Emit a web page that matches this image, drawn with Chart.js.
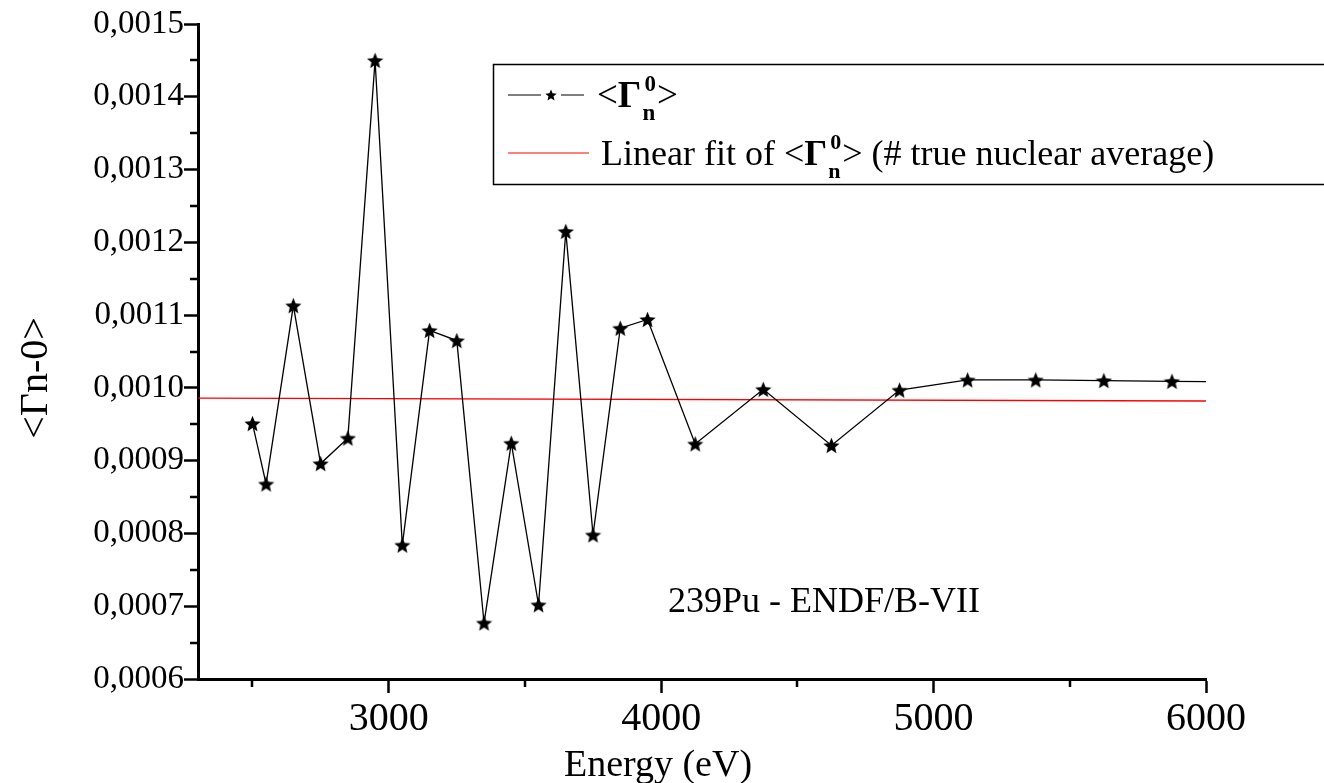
<!DOCTYPE html>
<html>
<head>
<meta charset="utf-8">
<script src="https://cdn.jsdelivr.net/npm/chart.js@4.4.1/dist/chart.umd.min.js"></script>
<style>
  html, body { margin: 0; padding: 0; background: #fff; }
  canvas { display: block; }
</style>
</head>
<body>
<canvas id="chart" width="1324" height="783"></canvas>
<script>
// Average reduced neutron width <Γn0> of 239Pu (ENDF/B-VII) versus energy
const energy = [2500, 2550, 2650, 2750, 2850, 2950, 3050, 3150, 3250, 3350, 3450, 3550,
                3650, 3750, 3850, 3950, 4125, 4375, 4625, 4875, 5125, 5375, 5625, 5875, 6125];
const gammaAvg = [0.000951, 0.000868, 0.001113, 0.000896, 0.000931, 0.001450, 0.000784,
                  0.001079, 0.001065, 0.000677, 0.000924, 0.000702, 0.001215, 0.000798,
                  0.001082, 0.001094, 0.000923, 0.000998, 0.000921, 0.000997, 0.001011,
                  0.001011, 0.001010, 0.001009, 0.001008];

// Linear fit (true nuclear average), end points
const fitEnergy = [2300, 6000];
const fitValue = [0.000986, 0.000982];

// Axis ticks
const xMajorTicks = [3000, 4000, 5000, 6000];
const xMinorTicks = [2500, 3500, 4500, 5500];
const yMajorTicks = [0.0006, 0.0007, 0.0008, 0.0009, 0.0010, 0.0011, 0.0012, 0.0013, 0.0014, 0.0015];
const yMinorTicks = [0.00065, 0.00075, 0.00085, 0.00095, 0.00105, 0.00115, 0.00125, 0.00135, 0.00145];

const xTitle = 'Energy (eV)';
const yTitle = '<Γn-0>';
const noteText = '239Pu - ENDF/B-VII';
const noteAt = { x: 4025, y: 0.000692 };
const legendRow2Prefix = 'Linear fit of ';
const legendRow2Suffix = ' (# true nuclear average)';

const SERIF = '"Liberation Serif", "Times New Roman", serif';

// Filled five-pointed star used as point marker
function starImage(size) {
  const c = document.createElement('canvas');
  c.width = size; c.height = size;
  const g = c.getContext('2d');
  const R = size / 2, r = R * 0.45, cy = R + R * 0.09;
  g.beginPath();
  for (let i = 0; i < 10; i++) {
    const a = -Math.PI / 2 + i * Math.PI / 5;
    const rad = i % 2 ? r : R;
    g.lineTo(R + rad * Math.cos(a), cy + rad * Math.sin(a));
  }
  g.closePath();
  g.fillStyle = '#000';
  g.fill();
  return c;
}
const starMarker = starImage(17);
const legendStar = starImage(12);

// Draws "<Γ n 0>" with stacked subscript / superscript; returns the end x
function drawGammaSymbol(ctx, x, baseline, size) {
  ctx.font = `${size}px ${SERIF}`;
  ctx.fillText('<', x, baseline);
  x += ctx.measureText('<').width;
  ctx.font = `bold ${size}px ${SERIF}`;
  ctx.fillText('Γ', x, baseline);
  x += ctx.measureText('Γ').width + 1;
  const small = Math.round(size * 0.62);
  ctx.font = `bold ${small}px ${SERIF}`;
  ctx.fillText('n', x, baseline + size * 0.36);
  ctx.fillText('0', x + 2, baseline - size * 0.44);
  x += Math.max(ctx.measureText('n').width, ctx.measureText('0').width + 2) + 1;
  ctx.font = `${size}px ${SERIF}`;
  ctx.fillText('>', x, baseline);
  return x + ctx.measureText('>').width;
}

const decor = {
  id: 'decor',
  afterDraw(chart) {
    const { ctx, chartArea: area, scales: { x, y } } = chart;
    ctx.save();

    // minor tick marks
    ctx.strokeStyle = '#000';
    ctx.lineWidth = 2.5;
    ctx.beginPath();
    xMinorTicks.forEach(v => {
      const px = Math.round(x.getPixelForValue(v));
      ctx.moveTo(px, area.bottom); ctx.lineTo(px, area.bottom + 8);
    });
    yMinorTicks.forEach(v => {
      const py = Math.round(y.getPixelForValue(v));
      ctx.moveTo(area.left, py); ctx.lineTo(area.left - 8, py);
    });
    ctx.stroke();

    ctx.fillStyle = '#000';
    ctx.textBaseline = 'alphabetic';

    // axis titles
    ctx.font = `38px ${SERIF}`;
    ctx.textAlign = 'center';
    ctx.fillText(xTitle, 658, 776);
    ctx.save();
    ctx.translate(47, 378);
    ctx.rotate(-Math.PI / 2);
    ctx.font = `40px ${SERIF}`;
    ctx.fillText(yTitle, 0, 0);
    ctx.restore();

    // annotation
    ctx.textAlign = 'left';
    ctx.font = `36px ${SERIF}`;
    ctx.fillText(noteText, x.getPixelForValue(noteAt.x), y.getPixelForValue(noteAt.y));

    // legend box
    ctx.lineWidth = 1.5;
    ctx.strokeStyle = '#000';
    ctx.strokeRect(493.5, 64.5, 900, 120);

    // row 1: data series
    const r1 = 95;
    ctx.lineWidth = 1.2;
    ctx.beginPath();
    ctx.moveTo(508, r1); ctx.lineTo(541, r1);
    ctx.moveTo(561, r1); ctx.lineTo(584, r1);
    ctx.stroke();
    ctx.drawImage(legendStar, 551 - legendStar.width / 2, r1 - legendStar.height / 2);
    drawGammaSymbol(ctx, 597, r1 + 12, 37);

    // row 2: linear fit
    const r2 = 153;
    ctx.strokeStyle = '#ff0000';
    ctx.beginPath();
    ctx.moveTo(508, r2); ctx.lineTo(589, r2);
    ctx.stroke();
    let tx = 601;
    ctx.font = `36px ${SERIF}`;
    ctx.fillText(legendRow2Prefix, tx, r2 + 12);
    tx += ctx.measureText(legendRow2Prefix).width;
    tx = drawGammaSymbol(ctx, tx, r2 + 12, 36);
    ctx.font = `36px ${SERIF}`;
    ctx.fillText(legendRow2Suffix, tx, r2 + 12);

    ctx.restore();
  }
};

const tickFont = { family: SERIF, size: 33 };

new Chart(document.getElementById('chart'), {
  type: 'scatter',
  data: {
    datasets: [
      {
        label: 'Γn0',
        data: energy.map((e, i) => ({ x: e, y: gammaAvg[i] })),
        showLine: true,
        borderColor: '#000',
        borderWidth: 1.3,
        pointStyle: starMarker,
        pointRadius: 8,
        pointHoverRadius: 8,
        tension: 0
      },
      {
        label: 'Linear fit',
        data: fitEnergy.map((e, i) => ({ x: e, y: fitValue[i] })),
        showLine: true,
        borderColor: '#ff0000',
        borderWidth: 1.3,
        pointRadius: 0,
        tension: 0
      }
    ]
  },
  options: {
    responsive: false,
    animation: false,
    events: [],
    layout: { padding: { left: 0, right: 118, top: 24, bottom: 0 } },
    plugins: { legend: { display: false }, tooltip: { enabled: false } },
    scales: {
      x: {
        type: 'linear',
        min: 2300,
        max: 6000,
        afterBuildTicks: s => { s.ticks = xMajorTicks.map(v => ({ value: v })); },
        afterFit: s => { s.height = 104; },
        grid: { display: true, drawOnChartArea: false, drawTicks: true, tickLength: 14, tickWidth: 2.5, tickColor: '#000' },
        border: { display: true, color: '#000', width: 3 },
        ticks: { font: { family: SERIF, size: 40 }, color: '#000', padding: 2, maxRotation: 0, autoSkip: false,
                 callback: v => String(v) }
      },
      y: {
        type: 'linear',
        min: 0.0006,
        max: 0.0015,
        afterBuildTicks: s => { s.ticks = yMajorTicks.map(v => ({ value: v })); },
        afterFit: s => { s.width = 198; },
        grid: { display: true, drawOnChartArea: false, drawTicks: true, tickLength: 14, tickWidth: 2.5, tickColor: '#000' },
        border: { display: true, color: '#000', width: 3 },
        ticks: { font: tickFont, color: '#000', padding: 0, autoSkip: false,
                 callback: v => v.toFixed(4).replace('.', ',') }
      }
    }
  },
  plugins: [decor]
});
</script>
</body>
</html>
